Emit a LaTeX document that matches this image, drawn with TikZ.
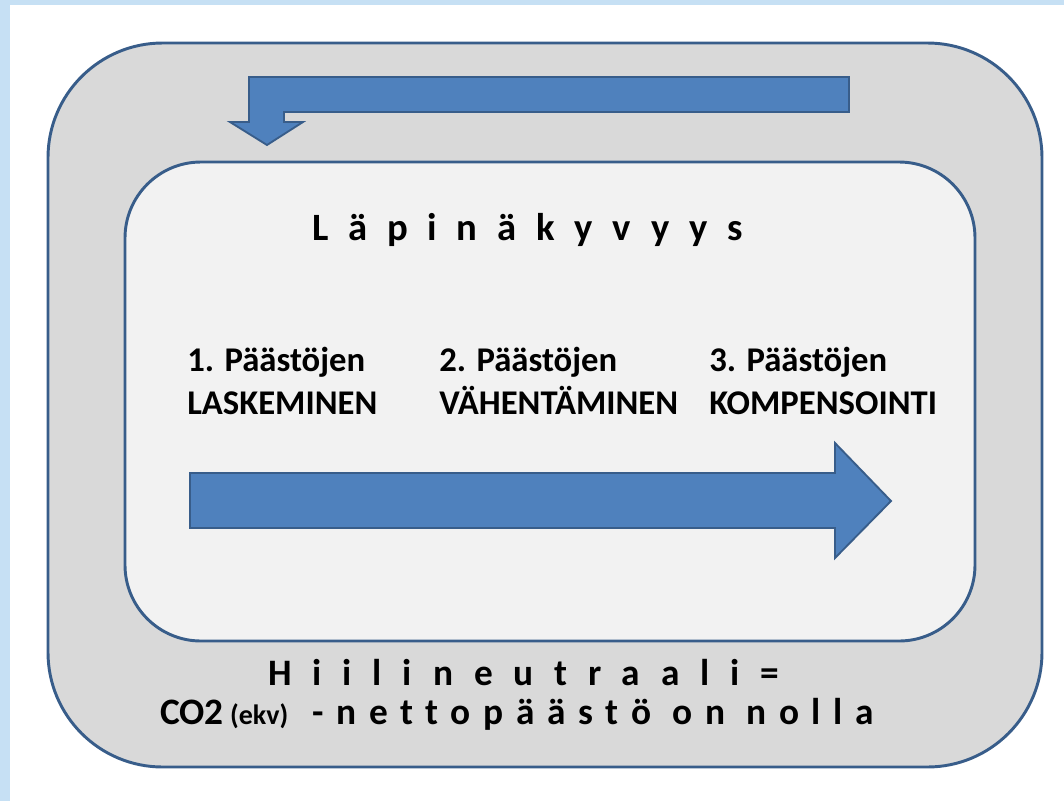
\documentclass[tikz,border=0pt]{standalone}
\usepackage{fontspec}
\setmainfont{Carlito}[Ligatures=NoCommon]
\definecolor{framebg}{HTML}{C6E0F4}
\definecolor{outergray}{HTML}{D9D9D9}
\definecolor{innergray}{HTML}{F2F2F2}
\definecolor{arrowblue}{HTML}{4F81BD}
\definecolor{edgeblue}{HTML}{385D8A}

\begin{document}
\begin{tikzpicture}[x=0.75pt, y=-0.75pt]
    \tikzstyle{panel} = [draw=edgeblue, line width=2.2pt]
    \tikzstyle{bigarrow} = [draw=edgeblue, fill=arrowblue, line width=1.4pt, line join=miter]
    \tikzstyle{spaced} = [inner sep=0pt, anchor=base west, font=\fontsize{28}{34}\selectfont\bfseries]
    \tikzstyle{stage} = [inner sep=0pt, anchor=base west, align=left, font=\fontsize{26}{32}\selectfont\bfseries]

    \useasboundingbox (0,0) rectangle (1064,801);
    \fill[framebg] (0,0) rectangle (1064,5);
    \fill[framebg] (0,0) rectangle (10,801);

    % Panels
    \draw[panel, fill=outergray, rounded corners=86pt] (48,43) rectangle (1042,767);
    \draw[panel, fill=innergray, rounded corners=57pt] (125,162) rectangle (975,641);

    % Arrows
    \draw[bigarrow] (849,77) -- (249,77) -- (249,122) -- (230,122) -- (267,145)
        -- (303,122) -- (284,122) -- (284,112) -- (849,112) -- cycle;
    \draw[bigarrow] (190,473) -- (835,473) -- (835,443) -- (891,501)
        -- (835,558) -- (835,528) -- (190,528) -- cycle;

    % Texts
    \node[spaced, font=\fontsize{29}{35}\selectfont\bfseries\addfontfeature{LetterSpace=51}] (clear) at (312,240) {Läpinäkyvyys};
    \node[stage] (count) at (187,414) {1. Päästöjen\\LASKEMINEN};
    \node[stage] (reduce) at (439,414) {2. Päästöjen\\VÄHENTÄMINEN};
    \node[stage] (offset) at (709,414) {3. Päästöjen\\KOMPENSOINTI};
    \node[spaced, font=\fontsize{28}{34}\selectfont\bfseries\addfontfeature{LetterSpace=56}] (neutral) at (268,685) {Hiilineutraali=};
    \node[spaced] (netzero) at (160,724) {CO2\,{\fontsize{21}{25}\selectfont(ekv)}\hspace{18pt}{\addfontfeature{LetterSpace=34}-nettopäästö on nolla}};
\end{tikzpicture}
\end{document}
